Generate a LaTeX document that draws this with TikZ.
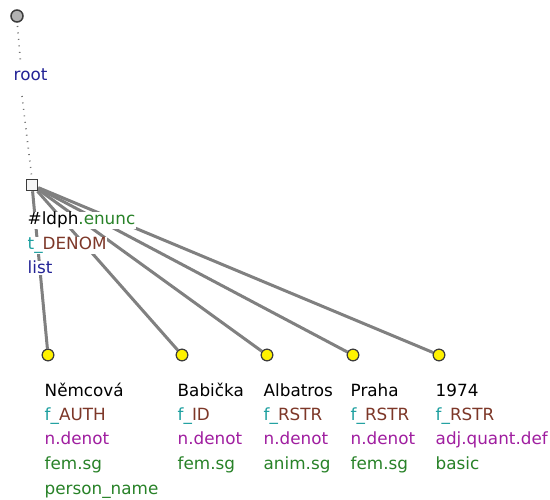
\documentclass[tikz,border=0pt]{standalone}
\usepackage{fontspec}
\setmainfont{DejaVu Sans}
\definecolor{tblue}{RGB}{35,35,150}
\definecolor{tgreen}{RGB}{40,130,40}
\definecolor{tteal}{RGB}{30,160,160}
\definecolor{tbrown}{RGB}{125,55,40}
\definecolor{tpurple}{RGB}{160,30,160}
\definecolor{tline}{RGB}{128,128,128}
\definecolor{tborder}{RGB}{60,60,60}
\tikzset{
  lbl/.style={anchor=base west, inner sep=0.5pt, fill=white, font=\fontsize{16.8}{19}\selectfont},
  leafc/.style={circle, draw=tborder, line width=1.1pt, fill=yellow, minimum size=11.5pt, inner sep=0pt},
  rootc/.style={circle, draw=tborder, line width=1.5pt, fill=black!30, minimum size=12pt, inner sep=0pt},
  sqr/.style={rectangle, draw=tborder, line width=1.5pt, fill=black!4, minimum size=11pt, inner sep=0pt},
  edge/.style={draw=tline, line width=3pt},
  dots/.style={draw=black!55, line width=1.6pt, dash pattern=on 1pt off 5.5pt},
}
\begin{document}
\begin{tikzpicture}[x=1pt,y=-1pt]
\useasboundingbox (0,0) rectangle (550,500);
% nodes
\node[rootc] (r) at (17,16) {};
\node[sqr] (sq) at (32,185) {};
\node[leafc] (c1) at (48,355) {};
\node[leafc] (c2) at (182,355) {};
\node[leafc] (c3) at (267,355) {};
\node[leafc] (c4) at (353,355) {};
\node[leafc] (c5) at (439,355) {};
\coordinate (d1) at (17.5,26);
\coordinate (d2) at (20.5,62);
\coordinate (d3) at (22,96);
\coordinate (d4) at (32,179);
% dotted
\draw[dots] (d1) -- (d2);
\draw[dots] (d3) -- (d4);
% edges
\draw[edge] (sq) -- (c1);
\draw[edge] (sq) -- (c2);
\draw[edge] (sq) -- (c3);
\draw[edge] (sq) -- (c4);
\draw[edge] (sq) -- (c5);
% redraw node shapes over edges
\node[sqr] at (sq) {};
\node[leafc] at (c1) {};
\node[leafc] at (c2) {};
\node[leafc] at (c3) {};
\node[leafc] at (c4) {};
\node[leafc] at (c5) {};
% labels
\node[lbl, text=tblue] (rl) at (13,81) {root};
\node[lbl] (sa) at (27,225) {\#ldph\textcolor{tgreen}{.enunc}};
\node[lbl] (sb) at (27,250) {\textcolor{tteal}{t\_}\textcolor{tbrown}{DENOM}};
\node[lbl, text=tblue] (sc) at (27,274) {list};
% leaf 1
\node[lbl] (a1) at (44,396) {Němcová};
\node[lbl] (a2) at (44,420.5) {\textcolor{tteal}{f\_}\textcolor{tbrown}{AUTH}};
\node[lbl, text=tpurple] (a3) at (44,445) {n.denot};
\node[lbl, text=tgreen] (a4) at (44,469.5) {fem.sg};
\node[lbl, text=tgreen] (a5) at (44,494) {person\_name};
% leaf 2
\node[lbl] (b1) at (177,396) {Babička};
\node[lbl] (b2) at (177,420.5) {\textcolor{tteal}{f\_}\textcolor{tbrown}{ID}};
\node[lbl, text=tpurple] (b3) at (177,445) {n.denot};
\node[lbl, text=tgreen] (b4) at (177,469.5) {fem.sg};
% leaf 3
\node[lbl] (e1) at (263,396) {Albatros};
\node[lbl] (e2) at (263,420.5) {\textcolor{tteal}{f\_}\textcolor{tbrown}{RSTR}};
\node[lbl, text=tpurple] (e3) at (263,445) {n.denot};
\node[lbl, text=tgreen] (e4) at (263,469.5) {anim.sg};
% leaf 4
\node[lbl] (g1) at (350,396) {Praha};
\node[lbl] (g2) at (350,420.5) {\textcolor{tteal}{f\_}\textcolor{tbrown}{RSTR}};
\node[lbl, text=tpurple] (g3) at (350,445) {n.denot};
\node[lbl, text=tgreen] (g4) at (350,469.5) {fem.sg};
% leaf 5
\node[lbl] (h1) at (435,396) {1974};
\node[lbl] (h2) at (435,420.5) {\textcolor{tteal}{f\_}\textcolor{tbrown}{RSTR}};
\node[lbl, text=tpurple] (h3) at (435,445) {adj.quant.def};
\node[lbl, text=tgreen] (h4) at (435,469.5) {basic};
\end{tikzpicture}
\end{document}
